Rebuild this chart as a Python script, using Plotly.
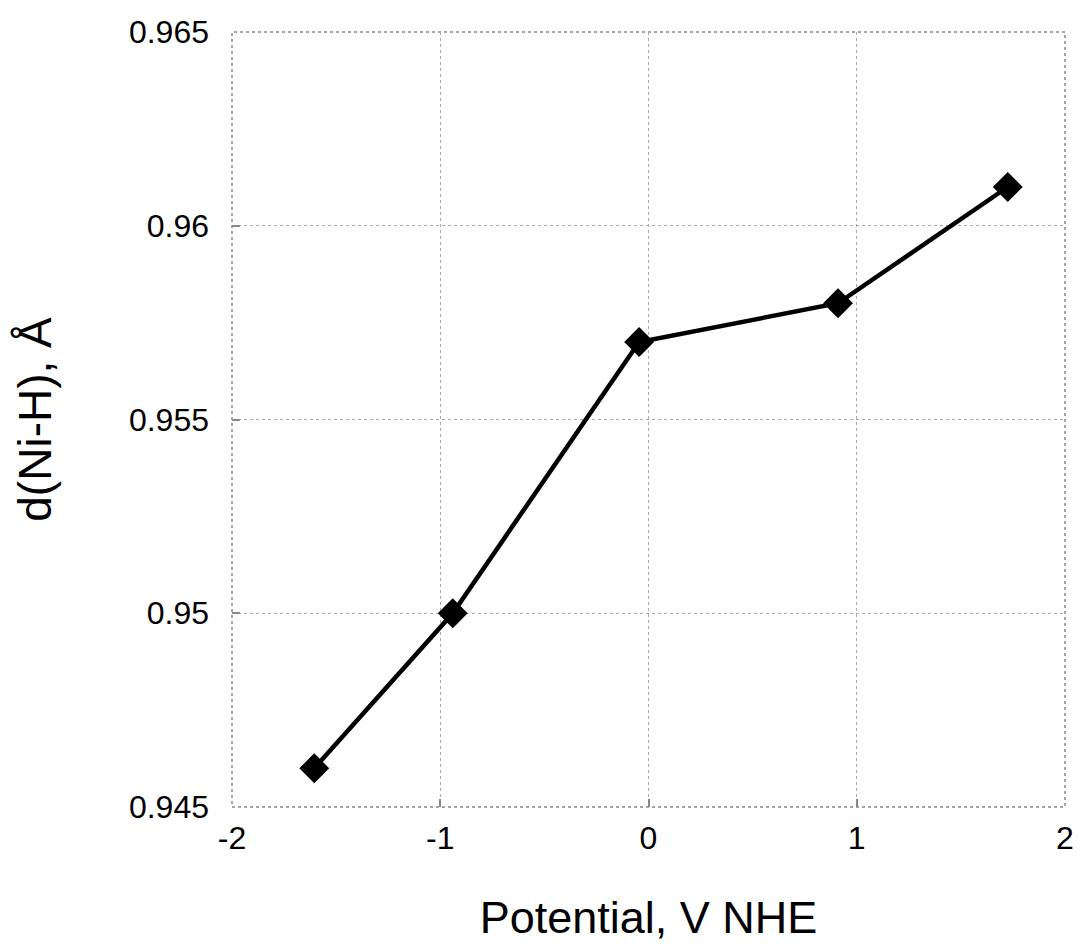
import plotly.graph_objects as go

potential = [-1.605, -0.94, -0.045, 0.91, 1.725]
d_ni_h = [0.946, 0.950, 0.957, 0.958, 0.961]
x_ticks = [-2, -1, 0, 1, 2]
y_ticks = [0.945, 0.95, 0.955, 0.96, 0.965]
y_tick_text = ["0.945", "0.95", "0.955", "0.96", "0.965"]

fig = go.Figure()
fig.add_trace(go.Scatter(
    x=potential, y=d_ni_h, mode="lines+markers",
    line=dict(color="black", width=4.5),
    marker=dict(symbol="diamond", size=23, color="black"),
    showlegend=False,
))

font = "Liberation Sans, Arial, Helvetica, sans-serif"
fig.update_layout(
    width=1086, height=946,
    margin=dict(l=232, r=14, t=32, b=138),
    paper_bgcolor="white", plot_bgcolor="white",
    font=dict(family=font, color="black"),
    shapes=[dict(type="rect", xref="paper", yref="paper", x0=0, y0=0, x1=1, y1=1,
                 line=dict(color="#888", width=1.5, dash="dot"), layer="below")],
)
fig.update_xaxes(
    range=[-2, 2], tickvals=x_ticks, ticktext=[str(v) for v in x_ticks],
    showgrid=True, gridcolor="#aaa", griddash="dot", gridwidth=1,
    zeroline=False, showline=False,
    ticks="inside", ticklen=8, tickcolor="#888", tickwidth=1.5,
    tickfont=dict(size=32), ticklabelstandoff=9,
    title=dict(text="Potential, V NHE", font=dict(size=45), standoff=46),
)
fig.update_yaxes(
    range=[0.945, 0.965], tickvals=y_ticks, ticktext=y_tick_text,
    showgrid=True, gridcolor="#aaa", griddash="dot", gridwidth=1,
    zeroline=False, showline=False,
    ticks="inside", ticklen=8, tickcolor="#888", tickwidth=1.5,
    tickfont=dict(size=32), ticklabelstandoff=22,
    title=dict(text="d(Ni-H), Å", font=dict(size=46), standoff=62),
)
fig.write_html("out.html")
